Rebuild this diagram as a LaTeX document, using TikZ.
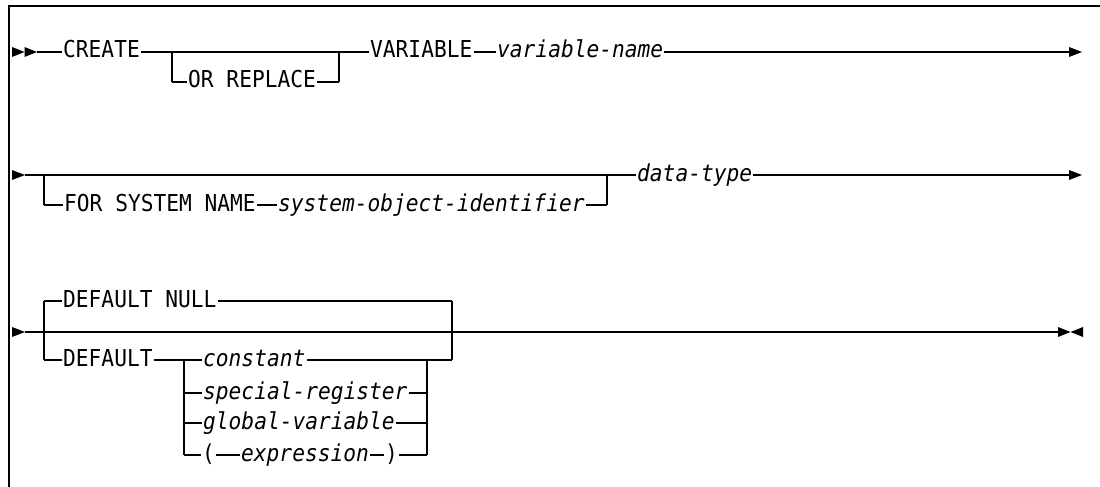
\documentclass[tikz,border=0pt]{standalone}
\usepackage{fontspec}
\newfontfamily\railfont{DejaVu Sans Mono}[FakeStretch=0.91]
\usepackage{tikz}

\begin{document}
\begin{tikzpicture}[x=1pt,y=-1pt]

	\tikzstyle keyword=[anchor=west, inner sep=0pt, inner xsep=1pt, text height=17pt, text depth=5pt, font=\railfont\fontsize{23.3}{28}\selectfont];
	\tikzstyle varword=[keyword, font=\railfont\itshape\fontsize{23.3}{28}\selectfont];
	\tikzstyle rail=[line width=1.4pt];
	\tikzstyle railbar=[line width=2.4pt];
	\tikzstyle border=[line width=2pt];

	\useasboundingbox (0,0) rectangle (1100,487);
	\draw[border] (9,487) -- (9,6) -- (1100,6);

	% first line
	\coordinate (a1) at (12,52);
	\coordinate (a1e) at (37,52);
	\coordinate (j1l) at (172,52);
	\coordinate (j1r) at (339,52);
	\coordinate (e1) at (1069,52);
	\node[keyword] (create) at (62,52) {CREATE};
	\node[keyword] (orrep) at (187,82) {OR REPLACE};
	\node[keyword] (varkw) at (369,52) {VARIABLE};
	\node[varword] (varname) at (496,52) {variable-name};

	\fill (a1) -- ++(0,-5) -- ++(12.5,5) -- ++(-12.5,5) -- cycle;
	\fill (a1)++(12.5,0) -- ++(0,-5) -- ++(12.5,5) -- ++(-12.5,5) -- cycle;
	\draw[rail] (a1e) -- (create);
	\draw[rail] (create) -- (j1l) -- (j1r) -- (varkw);
	\draw[rail] (varkw) -- (varname) -- (e1);
	\fill (e1) -- ++(0,-5) -- ++(13,5) -- ++(-13,5) -- cycle;
	\draw[railbar] (j1l) -- (j1l |- orrep);
	\draw[railbar] (j1r) -- (j1r |- orrep);
	\draw[rail] (j1l |- orrep) -- (orrep) -- (j1r |- orrep);

	% second line
	\coordinate (a2) at (12,175);
	\coordinate (a2e) at (25,175);
	\coordinate (j2l) at (44,175);
	\coordinate (j2r) at (607,175);
	\coordinate (e2) at (1069,175);
	\node[keyword] (forsys) at (63,205) {FOR SYSTEM NAME};
	\node[varword] (sysobj) at (277,205) {system-object-identifier};
	\node[varword] (dtype) at (636,175) {data-type};

	\fill (a2) -- ++(0,-5) -- ++(13,5) -- ++(-13,5) -- cycle;
	\draw[rail] (a2e) -- (j2l) -- (j2r) -- (dtype) -- (e2);
	\fill (e2) -- ++(0,-5) -- ++(13,5) -- ++(-13,5) -- cycle;
	\draw[railbar] (j2l) -- (j2l |- forsys);
	\draw[railbar] (j2r) -- (j2r |- forsys);
	\draw[rail] (j2l |- forsys) -- (forsys) -- (sysobj) -- (j2r |- forsys);

	% third line
	\coordinate (a3) at (12,332);
	\coordinate (a3e) at (25,332);
	\coordinate (j3l) at (44,332);
	\coordinate (j3r) at (452,332);
	\coordinate (e3) at (1058,332);
	\node[keyword] (dnull) at (62,301) {DEFAULT NULL};
	\node[keyword] (dflt) at (62,360) {DEFAULT};
	\coordinate (j4l) at (184,360);
	\coordinate (j4r) at (427,360);
	\node[varword] (const) at (202,360) {constant};
	\node[varword] (spreg) at (202,393) {special-register};
	\node[varword] (glvar) at (202,423) {global-variable};
	\node[keyword] (lpar) at (201,455) {(};
	\node[varword] (expr) at (240,455) {expression};
	\node[keyword] (rpar) at (384,455) {)};

	\fill (a3) -- ++(0,-5) -- ++(13,5) -- ++(-13,5) -- cycle;
	\draw[rail] (a3e) -- (j3l) -- (j3r) -- (e3);
	\fill (e3) -- ++(0,-5) -- ++(12.5,5) -- ++(-12.5,5) -- cycle;
	\fill (e3)++(25,0) -- ++(0,-5) -- ++(-12.5,5) -- ++(12.5,5) -- cycle;
	\draw[railbar] (j3l |- dnull) -- (j3l |- dflt);
	\draw[railbar] (j3r |- dnull) -- (j3r |- dflt);
	\draw[rail] (j3l |- dnull) -- (dnull) -- (j3r |- dnull);
	\draw[rail] (j3l |- dflt) -- (dflt) -- (j4l) -- (const) -- (j4r) -- (j3r |- dflt);
	\draw[railbar] (j4l) -- (j4l |- lpar);
	\draw[railbar] (j4r) -- (j4r |- lpar);
	\draw[rail] (j4l |- spreg) -- (spreg) -- (j4r |- spreg);
	\draw[rail] (j4l |- glvar) -- (glvar) -- (j4r |- glvar);
	\draw[rail] (j4l |- lpar) -- (lpar) -- (expr) -- (rpar) -- (j4r |- lpar);

\end{tikzpicture}
\end{document}
